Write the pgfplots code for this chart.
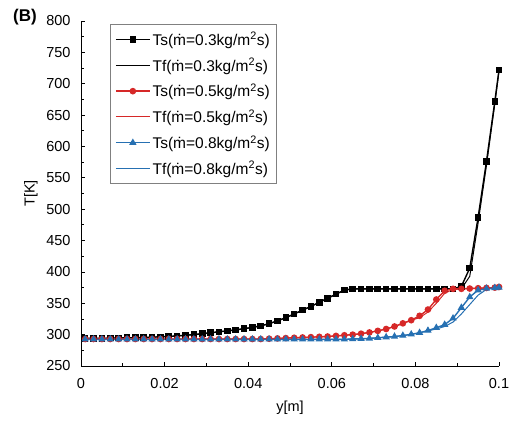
\documentclass[border=0pt]{standalone}
\usepackage{fontspec}
\setmainfont{Liberation Sans}
\usepackage{pgfplots}
\pgfplotsset{compat=1.18}
\usepackage{pgfplotstable}
\definecolor{tsred}{RGB}{214,40,40}
\definecolor{tsblue}{RGB}{38,112,178}

% x, Ts/Tf for mdot = 0.3, 0.5, 0.8
\pgfplotstableread{
x     bs    bf    rs    rf    gs     gf
0.001 294   294   293   293   292.5  292.5
0.003 294   294   293   293   292.5  292.5
0.005 294   294   293   293   292.5  292.5
0.007 294.5 294.5 293   293   292.5  292.5
0.009 294.5 294.5 293   293   292.5  292.5
0.011 295   295   293   293   292.5  292.5
0.013 295   295   293   293   292.5  292.5
0.015 295.5 295.5 293   293   292.5  292.5
0.017 296   296   293   293   292.5  292.5
0.019 296.5 296.5 293   293   292.5  292.5
0.021 297   297   293   293   292.5  292.5
0.023 298   298   293   293   292.5  292.5
0.025 299   299   293   293   292.5  292.5
0.027 300   300   293   293   292.5  292.5
0.029 301.5 301.5 293   293   292.5  292.5
0.031 303   303   293   293   292.5  292.5
0.033 304.5 304.5 293   293   292.5  292.5
0.035 306   306   293   293   292.5  292.5
0.037 307.5 307.5 293   293   292.5  292.5
0.039 309.5 309.5 293   293   292.5  292.5
0.041 311.5 311.5 293   293   292.5  292.5
0.043 314   314   293   293   292.5  292.5
0.045 317.5 317.5 293.5 293.5 292.5  292.5
0.047 322   322   294   294   292.5  292.5
0.049 327   327   294.5 294.5 292.5  292.5
0.051 333   333   295   295   292.5  292.5
0.053 339   339   295.5 295.5 292.5  292.5
0.055 345   345   296   296   292.5  292.5
0.057 351.5 351.5 296.5 296.5 292.5  292.5
0.059 358   358   297   297   292.5  292.5
0.061 364.5 364.5 298   298   292.5  292.5
0.063 371   371   299   299   292.5  292.5
0.065 373   373   300   300   293    293
0.067 373   373   301.5 301.5 293.5  293.5
0.069 373   373   303.5 303.5 294    294
0.071 373   373   306   306   295    295
0.073 373   373   309   309   296    296
0.075 373   373   313   313   297    297
0.077 373   373   318   318   298.5  298.5
0.079 373   373   323   323   300.5  300.5
0.081 373   373   330   327   303    303
0.083 373   373   340   336   306.5  306
0.085 373   373   356   350   311    309
0.087 373   373   370   366   316    313
0.089 373   373   373   372   326    320
0.091 377   373   373   373   343    333
0.093 406   393   373.5 373.5 360    348
0.095 487   478   374   374   371    363
0.097 576   570   374.5 374.5 373.5  372
0.099 672   668   375   375   374.5  374
0.1   722   720   376   376   375    375
}\datatable

\begin{document}
\begin{tikzpicture}
\begin{axis}[
  scale only axis, width=418pt, height=345pt,
  xmin=0, xmax=0.1, ymin=250, ymax=800,
  axis x line=bottom, axis y line=left,
  axis line style={-, line width=1pt},
  xtick={0,0.02,0.04,0.06,0.08,0.1},
  xticklabels={0,0.02,0.04,0.06,0.08,0.1},
  ytick={250,300,...,800},
  minor x tick num=1, minor y tick num=1,
  tick align=inside,
  major tick length=4pt, minor tick length=3pt,
  tick style={line width=0.8pt, black},
  /pgf/number format/assume math mode=true,
  ticklabel style={font=\fontsize{14.5}{16}\selectfont},
  yticklabel style={xshift=-7pt},
  xticklabel style={yshift=-9pt},
  xlabel={y[m]}, ylabel={T[K]},
  label style={font=\fontsize{14.5}{16}\selectfont},
  xlabel style={at={(axis description cs:0.5,-0.12)}, anchor=center},
  ylabel style={at={(axis description cs:-0.12,0.5)}, anchor=center},
  clip=false,
  legend cell align=left,
  legend style={at={(rel axis cs:0.069,0.991)}, anchor=north west,
    draw=gray, line width=0.6pt, font=\fontsize{15.5}{17}\selectfont,
    row sep=7.5pt, inner xsep=5pt, inner ysep=6pt},
  legend image code/.code={
    \draw[mark repeat=2, mark phase=2] plot coordinates {(0pt,0pt) (17pt,0pt) (34pt,0pt)};},
]
\addplot[black, line width=1.4pt, mark=square*, mark size=2.6pt] table[x=x, y=bs] {\datatable};
\addlegendentry{Ts(\.{m}=0.3kg/m\textsuperscript{2}s)}
\addplot[black, line width=1pt] table[x=x, y=bf] {\datatable};
\addlegendentry{Tf(\.{m}=0.3kg/m\textsuperscript{2}s)}
\addplot[tsred, line width=1.4pt, mark=*, mark size=2.6pt] table[x=x, y=rs] {\datatable};
\addlegendentry{Ts(\.{m}=0.5kg/m\textsuperscript{2}s)}
\addplot[tsred, line width=1pt] table[x=x, y=rf] {\datatable};
\addlegendentry{Tf(\.{m}=0.5kg/m\textsuperscript{2}s)}
\addplot[tsblue, line width=1.4pt, mark=triangle*, mark size=2.9pt] table[x=x, y=gs] {\datatable};
\addlegendentry{Ts(\.{m}=0.8kg/m\textsuperscript{2}s)}
\addplot[tsblue, line width=1pt] table[x=x, y=gf] {\datatable};
\addlegendentry{Tf(\.{m}=0.8kg/m\textsuperscript{2}s)}
\node[font=\bfseries\fontsize{17}{19}\selectfont] at (rel axis cs:-0.134,1.012) {(B)};
\coordinate (bbA) at (rel axis cs:-0.1938,1.0609);
\coordinate (bbB) at (rel axis cs:1.0263,-0.1594);
\end{axis}
\pgfresetboundingbox
\path[use as bounding box] (bbA) rectangle (bbB);
\end{tikzpicture}
\end{document}
